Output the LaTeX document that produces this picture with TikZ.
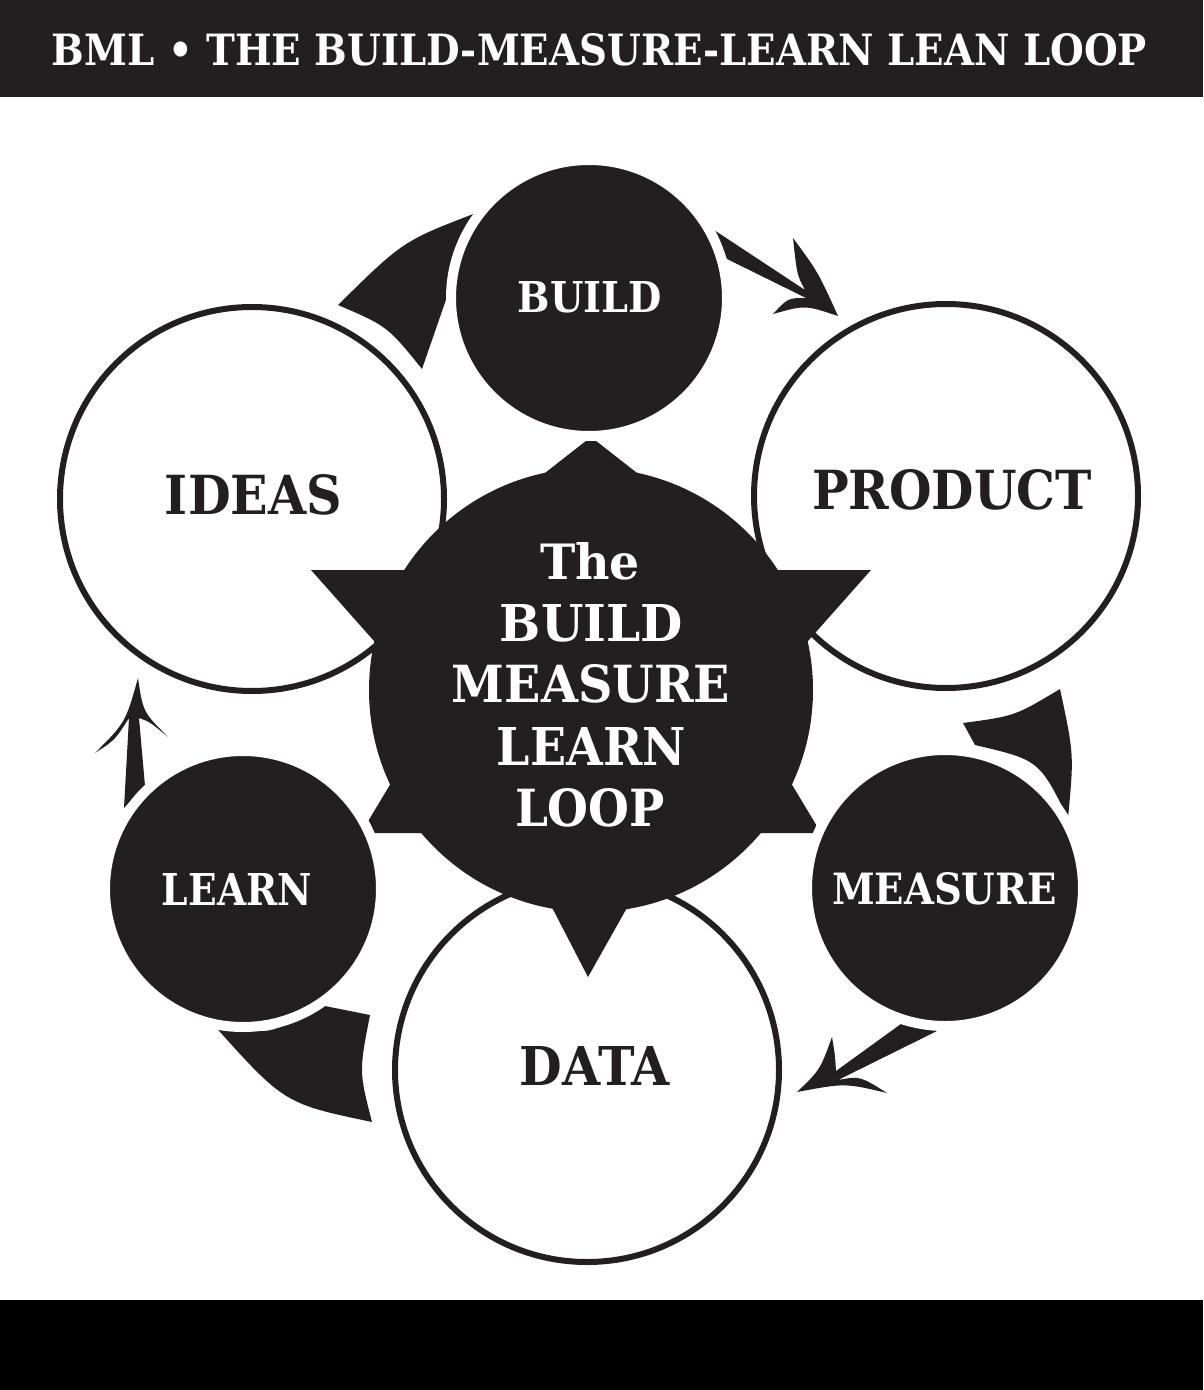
\documentclass[tikz,border=0pt]{standalone}
\usepackage{fontspec}
\setmainfont{DejaVu Serif}
\usepackage{graphicx}
\definecolor{ink}{HTML}{231F20}
\newcommand{\fitlabel}[3]{\resizebox{#1}{#2}{\bfseries #3}}
\tikzset{
  whitedisc/.style={circle, inner sep=0pt, minimum size=192pt, fill=white, draw=ink, line width=3pt},
  blackdisc/.style={circle, inner sep=0pt, minimum size=138pt, fill=ink, draw=white, line width=5pt},
  lbl/.style={inner sep=0pt, text=ink},
  wlbl/.style={inner sep=0pt, text=white},
  flow/.style={fill=ink},
}
\begin{document}
\begin{tikzpicture}[x=0.5pt,y=-0.5pt]
\useasboundingbox (0,0) rectangle (1203,1390);
\fill[white] (0,0) rectangle (1203,1390);
% title bar
\fill[ink] (0,0) rectangle (1203,97);
\node[wlbl] (title) at (599.5,50) {\fitlabel{547.5pt}{16pt}{BML • THE BUILD-MEASURE-LEARN LEAN LOOP}};
% bottom bar
\fill[black] (0,1300) rectangle (1203,1390);

% wedge arrows
\fill[flow] (338,305) .. controls (403,241) .. (476,213) -- (422,369) .. controls (387.4,326.2) .. (338,305) -- cycle;
\fill[flow] (963,723) .. controls (1015,716) .. (1060,689) .. controls (1074,754.5) .. (1068,818) .. controls (1039,760) .. (975,745) -- cycle;
\fill[flow] (212,1023) .. controls (269,1036) .. (320,1005) -- (370,1015) .. controls (359,1071.5) .. (372,1122) .. controls (284,1103.5) .. (212,1023) -- cycle;
% barbed arrows
\fill[flow] (711,228) -- (805,290) .. controls (797,275) .. (793,238) .. controls (818,272) .. (838,316) .. controls (805,305) .. (773,314) .. controls (788,298) .. (806,298) -- (727,259) -- cycle;
\fill[flow] (905,1021) -- (836,1071) .. controls (835,1055) .. (832,1037) .. controls (820,1070) .. (797,1092) .. controls (845,1083) .. (887,1093) .. controls (860,1076) .. (838,1080) -- (941,1029) -- cycle;
\fill[flow] (129,718) -- (124,808) -- (145,786) -- (139,718) .. controls (150,722) .. (168,737) .. controls (143,712) .. (138,678) .. controls (125.5,722.5) .. (95,753) .. controls (115,740) .. (129,718) -- cycle;

% white circles
\node[whitedisc] (ideas) at (252,499) {};
\node[whitedisc] (product) at (946,496) {};
\node[whitedisc] (data) at (587,1070) {};

% central gear
\coordinate (hub) at (591,690);
\fill[ink] (hub) circle[radius=111pt];
\fill[ink] (591,437) -- (536,480) -- (646,480) -- cycle;
\fill[ink] (311,570) -- (425,570) -- (382,650) -- cycle;
\fill[ink] (871,570) -- (757,570) -- (800,650) -- cycle;
\fill[ink] (361,833) -- (430,833) -- (397,773) -- cycle;
\fill[ink] (821,833) -- (752,833) -- (785,773) -- cycle;
\fill[ink] (588,977) -- (543,890) -- (637,890) -- cycle;

% black circles
\node[blackdisc] (build) at (589,298) {};
\node[blackdisc] (measure) at (945,888) {};
\node[blackdisc] (learn) at (243,889) {};

% labels
\node[wlbl] (build-l) at (590,297.5) {\fitlabel{72pt}{15.5pt}{BUILD}};
\node[lbl] (ideas-l) at (253.5,495) {\fitlabel{88.5pt}{20pt}{IDEAS}};
\node[lbl] (product-l) at (952,490) {\fitlabel{140pt}{20pt}{PRODUCT}};
\node[wlbl] (learn-l) at (237,889) {\fitlabel{75pt}{16pt}{LEARN}};
\node[wlbl] (measure-l) at (944.5,889) {\fitlabel{112.5pt}{16pt}{MEASURE}};
\node[lbl] (data-l) at (595,1065.5) {\fitlabel{75pt}{19.5pt}{DATA}};

\node[wlbl] (c-the) at (590,561.5) {\fitlabel{50pt}{18.5pt}{The}};
\node[wlbl] (c-build) at (591.5,623.5) {\fitlabel{91.5pt}{18.5pt}{BUILD}};
\node[wlbl] (c-measure) at (591,684) {\fitlabel{139pt}{19pt}{MEASURE}};
\node[wlbl] (c-learn) at (591.5,746) {\fitlabel{94.5pt}{19pt}{LEARN}};
\node[wlbl] (c-loop) at (590,808) {\fitlabel{75pt}{19pt}{LOOP}};
\end{tikzpicture}
\end{document}
